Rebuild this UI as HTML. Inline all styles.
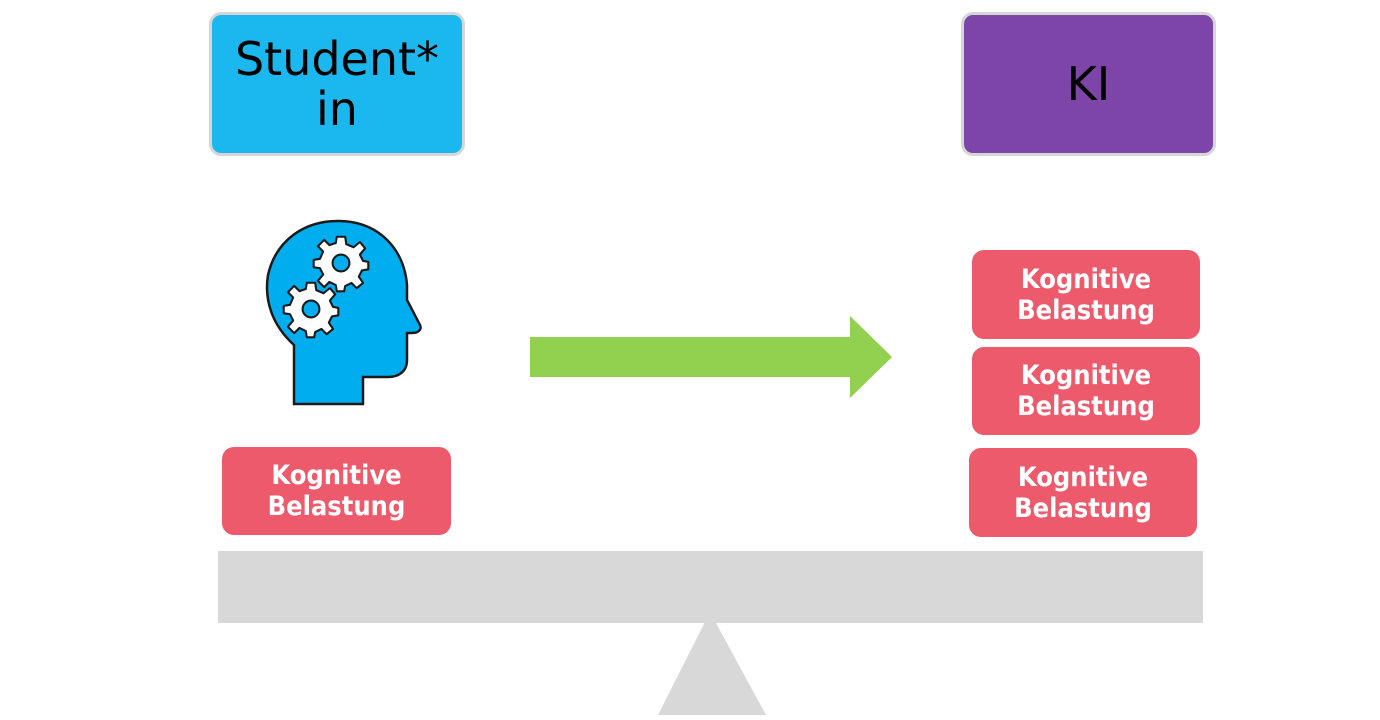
<!DOCTYPE html>
<html><head><meta charset="utf-8"><style>
body{margin:0;width:1380px;height:720px;background:#fff;position:relative;overflow:hidden;font-family:"DejaVu Sans","Liberation Sans",sans-serif}
.b{position:absolute;box-sizing:border-box;display:flex;align-items:center;justify-content:center;text-align:center}
.hd{border:3px solid #d6d6d6;border-radius:12px;font-size:46px;line-height:50px;color:#000}
.pk{background:#ec5a6c;color:#fff;border-radius:12px;font-family:"DejaVu Sans Condensed","DejaVu Sans",sans-serif;font-weight:bold;font-size:27px;line-height:31px}
</style></head><body>
<div class="b hd" style="left:209px;top:12px;width:256px;height:144px;background:#1ab8ee">Student*<br>in</div>
<div class="b hd" style="left:961px;top:12px;width:255px;height:144px;background:#7e45a8">KI</div>
<svg style="position:absolute;left:0;top:0" width="1380" height="720">
<rect x="218" y="551" width="985" height="72" fill="#d8d8d8"/>
<polygon points="710,612 766,715 658,715" fill="#d8d8d8"/>
<polygon points="530,337 850,337 850,316 892,357 850,398 850,377 530,377" fill="#92d050"/>
<path d="M294,404 L294,345 C272,325 264,300 268,275 C276,240 305,220 340,221 C380,222 404,250 407,285 L407,300 L420,325 C422,330 418,333 412,333 L407,333 L407,360 C407,372 398,377 388,377 L363,377 L363,404 Z" fill="#00aeef" stroke="#1a1a1a" stroke-width="2.5"/>
<g transform="translate(341,263) scale(1.05)"><path d="M-4,-25 L4,-25 L5,-18 L12,-15 L18,-20 L23,-14 L18,-8 L21,-2 L26,-1 L26,6 L20,7 L17,13 L21,19 L15,24 L10,19 L4,22 L3,27 L-4,27 L-5,21 L-11,18 L-16,23 L-22,17 L-17,11 L-20,5 L-26,4 L-26,-3 L-20,-4 L-17,-11 L-22,-16 L-16,-22 L-11,-17 L-5,-19 Z" fill="#fff" stroke="#1a1a1a" stroke-width="2" stroke-linejoin="round"/><circle r="8" fill="#00aeef" stroke="#1a1a1a" stroke-width="2"/></g>
<g transform="translate(311,309) scale(1.05)"><path d="M-4,-25 L4,-25 L5,-18 L12,-15 L18,-20 L23,-14 L18,-8 L21,-2 L26,-1 L26,6 L20,7 L17,13 L21,19 L15,24 L10,19 L4,22 L3,27 L-4,27 L-5,21 L-11,18 L-16,23 L-22,17 L-17,11 L-20,5 L-26,4 L-26,-3 L-20,-4 L-17,-11 L-22,-16 L-16,-22 L-11,-17 L-5,-19 Z" fill="#fff" stroke="#1a1a1a" stroke-width="2" stroke-linejoin="round"/><circle r="8" fill="#00aeef" stroke="#1a1a1a" stroke-width="2"/></g>
</svg>
<div class="b pk" style="left:222px;top:447px;width:229px;height:88px">Kognitive<br>Belastung</div>
<div class="b pk" style="left:972px;top:250px;width:228px;height:89px">Kognitive<br>Belastung</div>
<div class="b pk" style="left:972px;top:347px;width:228px;height:88px">Kognitive<br>Belastung</div>
<div class="b pk" style="left:969px;top:448px;width:228px;height:89px">Kognitive<br>Belastung</div>
</body></html>
